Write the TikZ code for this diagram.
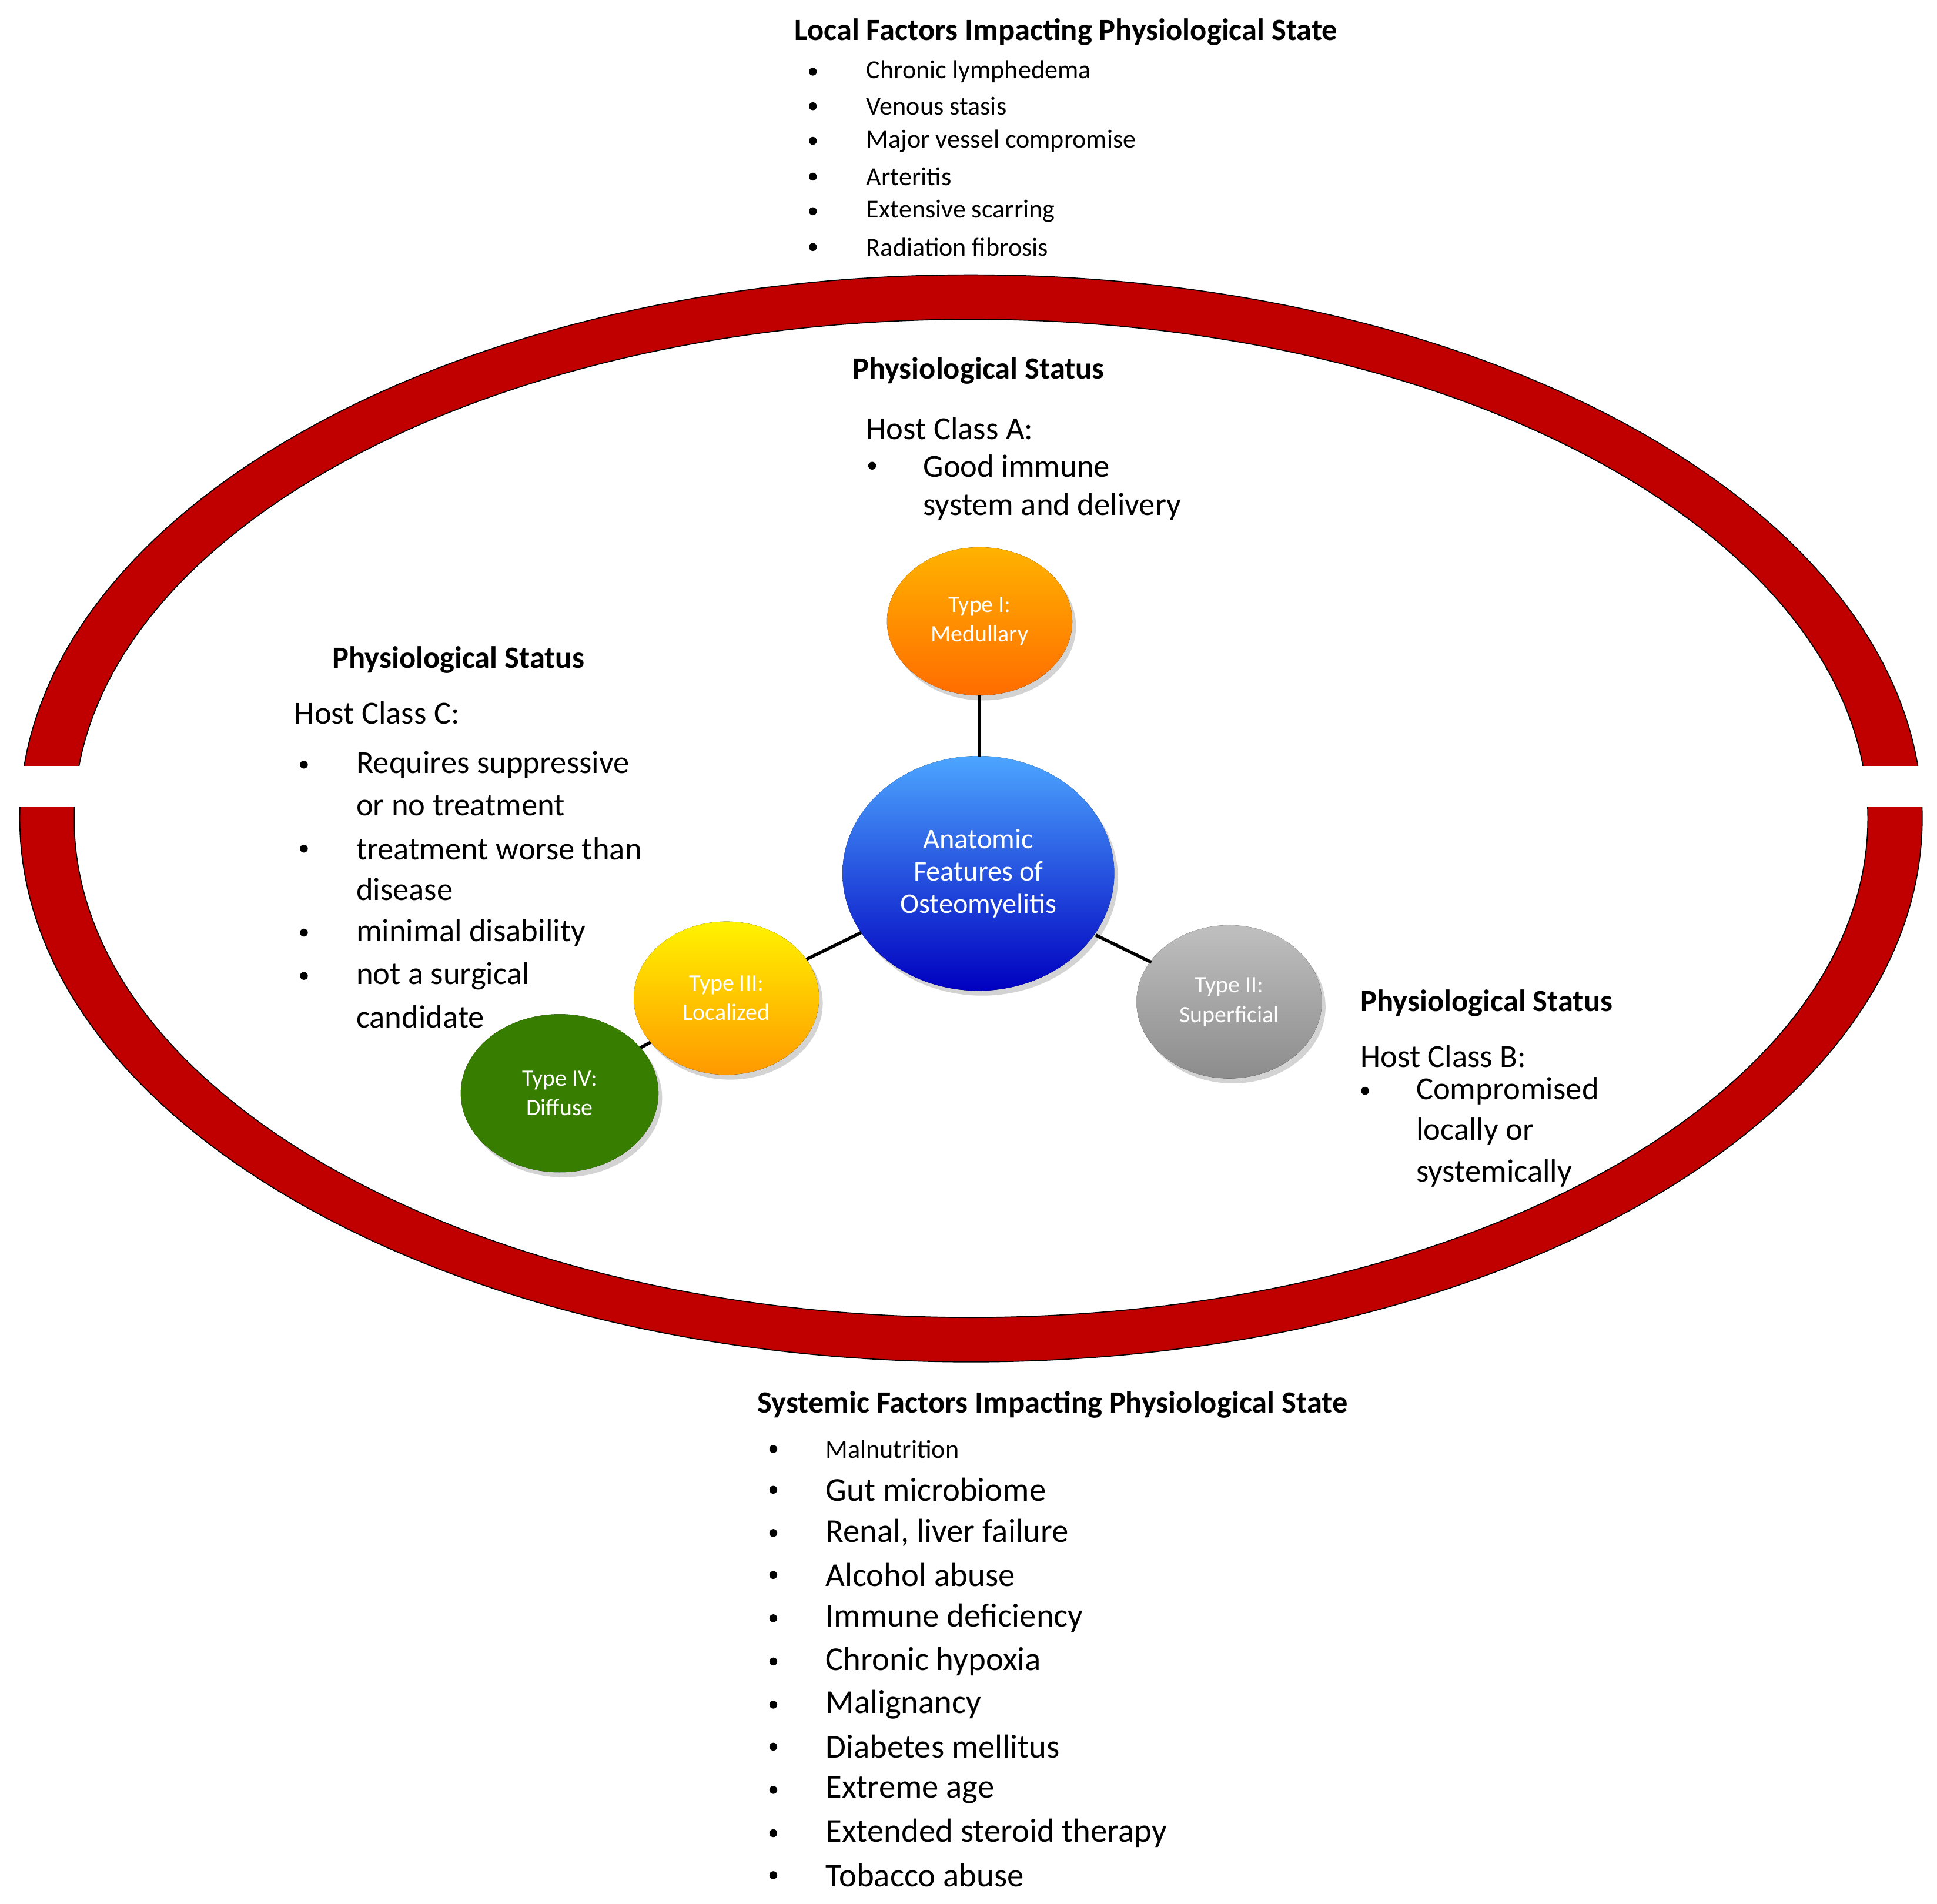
\documentclass[tikz,border=0pt]{standalone}
\usepackage{fontspec}
\setmainfont{Carlito}
\usetikzlibrary{shadows}
\definecolor{ringred}{HTML}{C00000}
\begin{document}
\begin{tikzpicture}[x={(0.5pt,0)},y={(0,-0.5pt)},
  title/.style={font=\fontsize{12.5}{14}\selectfont\bfseries},
  txt/.style={anchor=west,inner sep=0pt,font=\fontsize{13}{15}\selectfont},
  small/.style={anchor=west,inner sep=0pt,font=\fontsize{10.5}{12}\selectfont},
  big/.style={anchor=west,inner sep=0pt,font=\fontsize{13.5}{15}\selectfont},
  bul/.style={circle,fill=black,inner sep=0pt,minimum size=3.2pt},
  typ/.style={ellipse,draw=none,text=white,align=center,font=\fontsize{9.5}{12}\selectfont,drop shadow={opacity=0.35,shadow xshift=1.5pt,shadow yshift=-2pt}},
  link/.style={line width=1.3pt}]
\useasboundingbox (0,0) rectangle (1568,1541);
% ring
\begin{scope}
\clip (0,0) rectangle (1568,620) (0,653) rectangle (1568,1200);
\fill[ringred,draw=black,line width=0.4pt,even odd rule] (786,662.5) ellipse [x radius=770,y radius=440] (786,662.5) ellipse [x radius=726,y radius=404];
\end{scope}
\usetikzlibrary{shapes.geometric}
% circles
\node[typ,minimum width=220\pgflinewidth] (c) at (792,707) {};
\fill[top color=blue!50!cyan!70!white,bottom color=blue!75!black,drop shadow={opacity=0.35,shadow xshift=1.5pt,shadow yshift=-2pt}] (792,707) ellipse [x radius=110,y radius=95];
\node[font=\fontsize{11.5}{13}\selectfont,text=white,align=center] (ct) at (792,707) {Anatomic\\Features of\\Osteomyelitis};
\fill[top color=orange!60!yellow,bottom color=orange!85!red,drop shadow={opacity=0.35,shadow xshift=1.5pt,shadow yshift=-2pt}] (793,503) ellipse [x radius=75,y radius=60];
\node[text=white,align=center,font=\fontsize{9.5}{12}\selectfont] (t1) at (793,503) {Type I:\\Medullary};
\fill[top color=gray!50,bottom color=gray!90,drop shadow={opacity=0.35,shadow xshift=1.5pt,shadow yshift=-2pt}] (995,811) ellipse [x radius=75,y radius=62];
\node[text=white,align=center,font=\fontsize{9.5}{12}\selectfont] (t2) at (995,811) {Type II:\\Superficial};
\draw[link] (793,563) -- (793,613);
\draw[link] (887,757) -- (932,779);
\draw[link] (697,755) -- (652,777);
\draw[link] (528,843) -- (515,850);
\fill[top color=green!40!olive!70!black,bottom color=green!40!olive!70!black,drop shadow={opacity=0.35,shadow xshift=1.5pt,shadow yshift=-2pt}] (453,885) ellipse [x radius=80,y radius=64];
\node[text=white,align=center,font=\fontsize{9.5}{12}\selectfont] (t4) at (453,885) {Type IV:\\Diffuse};
\fill[top color=yellow!90!orange,bottom color=orange!80!yellow,drop shadow={opacity=0.35,shadow xshift=1.5pt,shadow yshift=-2pt}] (588,808) ellipse [x radius=75,y radius=62];
\node[text=white,align=center,font=\fontsize{9.5}{12}\selectfont] (t3) at (588,808) {Type III:\\Localized};
% top list
\node[title] (lt) at (863,26) {Local Factors Impacting Physiological State};
\foreach \y/\t in {58/Chronic lymphedema,86/Venous stasis,114/Major vessel compromise,143/Arteritis,171/Extensive scarring,200/Radiation fibrosis}{
  \node[bul] at (658,\y) {}; \node[small] at (701,\y) {\t};}
% host A
\node[title] (pa) at (792,300) {Physiological Status};
\node[txt] (ha) at (701,347) {Host Class A:};
\node[bul] at (706,377) {};
\node[txt] at (747,377) {Good immune};
\node[txt] at (747,410) {system and delivery};
% host C
\node[title] (pc) at (371,534) {Physiological Status};
\node[txt] (hc) at (238,577) {Host Class C:};
\foreach \y in {619,687,755,790}{\node[bul] at (246,\y) {};}
\foreach \y/\t in {619/Requires suppressive,652/or no treatment,687/treatment worse than,720/disease,755/minimal disability,790/not a surgical,823/candidate}{
  \node[txt] at (288,\y) {\t};}
% host B
\node[title,anchor=west,inner sep=0pt] (pb) at (1101,812) {Physiological Status};
\node[txt] (hb) at (1101,855) {Host Class B:};
\node[bul] at (1105,883) {};
\foreach \y/\t in {883/Compromised,916/locally or,950/systemically}{\node[txt] at (1146,\y) {\t};}
% bottom list
\node[title] (st) at (852,1137) {Systemic Factors Impacting Physiological State};
\node[bul] at (626,1173) {}; \node[small] at (668,1173) {Malnutrition};
\foreach \y/\t in {1206/Gut microbiome,1241/{Renal, liver failure},1275/Alcohol abuse,1310/Immune deficiency,1345/Chronic hypoxia,1380/Malignancy,1414/Diabetes mellitus,1449/Extreme age,1484/Extended steroid therapy,1518/Tobacco abuse}{
  \node[bul] at (626,\y) {}; \node[big] at (668,\y) {\t};}
\end{tikzpicture}
\end{document}
